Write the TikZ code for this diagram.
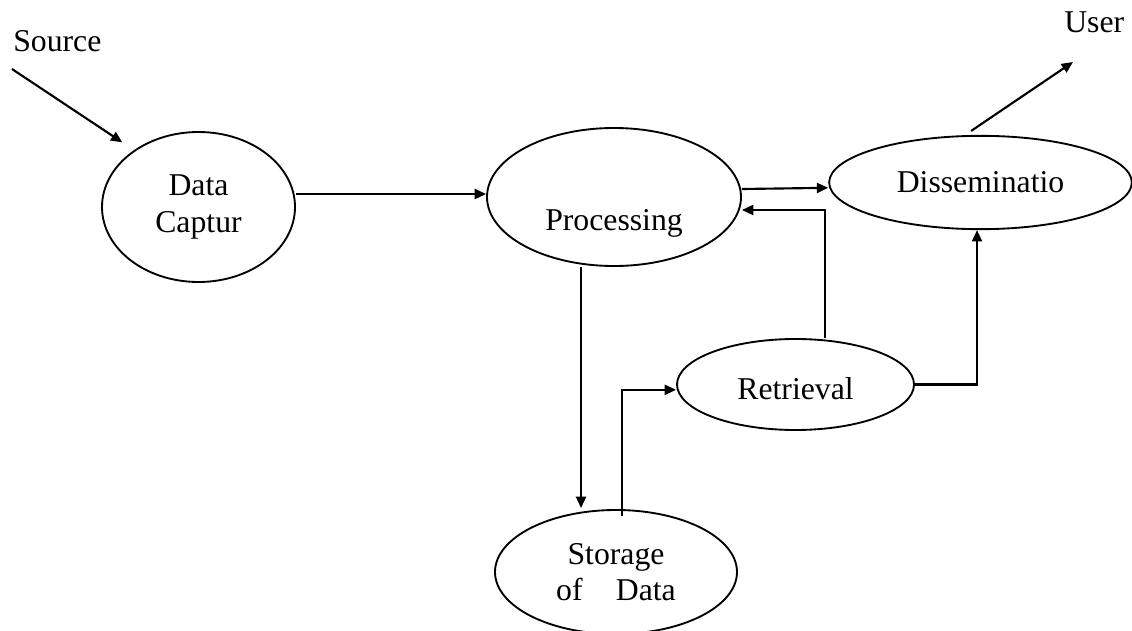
\documentclass[tikz,border=0pt]{standalone}
\usepackage{fontspec}
\setmainfont{Liberation Serif}
\usetikzlibrary{shapes.geometric,arrows.meta}

\begin{document}
\begin{tikzpicture}[x=0.75pt, y=-0.75pt,
        font=\fontsize{23.8}{27.5}\selectfont,
        blob/.style={draw, ellipse, line width=1.4pt, inner sep=0pt, align=center},
        lbl/.style={inner sep=0pt},
        arr/.style={-{Triangle[length=8.5pt,width=7.5pt]}, line width=1.6pt}]
        \useasboundingbox (0,0) rectangle (1132,631);
        % Stages of the data flow
        \node[blob, minimum width=144.75pt, minimum height=112.5pt] (dc) at (198.5,207) {Data\\Captur};
        \node[blob, minimum width=190.5pt, minimum height=103.5pt, text height=54.7pt, text depth=5.2pt] (proc) at (614,197) {Processing};
        \node[blob, minimum width=227pt, minimum height=70pt] (diss) at (980.5,182.5) {Disseminatio};
        \node[blob, minimum width=177.75pt, minimum height=68.25pt, text height=22pt] (retr) at (795.5,384.5) {Retrieval};
        \node[blob, minimum width=181.5pt, minimum height=93pt] (stor) at (616,572) {Storage\\of\hspace{25pt}Data};
        \node[lbl, anchor=base west] (src) at (13,52) {Source};
        \node[lbl, anchor=base west] (usr) at (1064,33) {User};

        \draw[arr] ([shift={(-0.75pt,-12.75pt)}]src.base west) -- ([shift={(-7.4pt,6.75pt)}]dc.140);
        \draw[arr] ([yshift=9.75pt]dc.east) -- ([yshift=2.25pt]proc.west);
        \draw[arr] ([yshift=6pt]proc.east) -- ([yshift=-4pt]diss.west);
        \draw[arr] ([xshift=22pt]retr.north) |- ([yshift=-9.75pt]proc.east);
        \draw[arr] (retr.east) -| ([xshift=-2.6pt]diss.south);
        \draw[arr] ([xshift=-24.75pt]proc.south) -- ([shift={(-26.25pt,0.75pt)}]stor.north);
        \draw[arr] ([shift={(4.5pt,-5.25pt)}]stor.north) |- ([yshift=-4pt]retr.west);
        \draw[arr] ([shift={(-7pt,3pt)}]diss.north) -- ([shift={(6.75pt,-21.75pt)}]usr.base west);
    \end{tikzpicture}
\end{document}
